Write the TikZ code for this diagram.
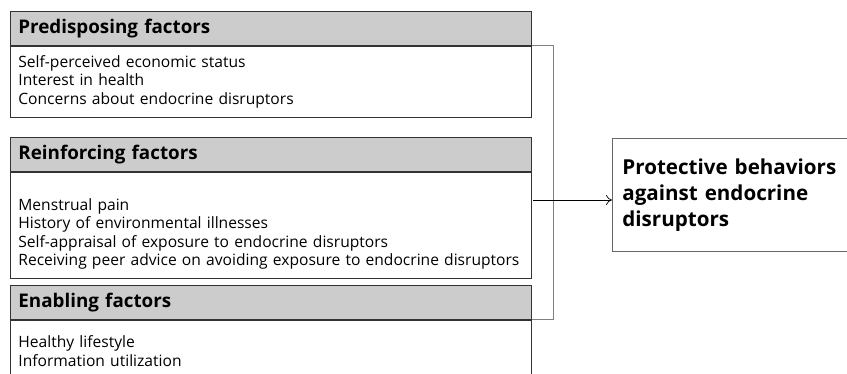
\documentclass[tikz,border=0pt]{standalone}
\usepackage{fontspec}
\setmainfont{Open Sans}
\usetikzlibrary{positioning}
\usetikzlibrary{arrows.meta}

\tikzset{
  headbox/.style={draw=black!80, fill=gray!40, minimum width=521pt, minimum height=34pt,
    text width=505pt, inner xsep=8pt, align=left, font=\fontsize{18.8}{22}\selectfont\bfseries},
  bodybox/.style={draw=black!80, minimum width=521pt, text width=505pt, inner xsep=8pt,
    align=left, font=\fontsize{15.6}{18.5}\selectfont},
  goalbox/.style={draw=black!60, minimum width=250pt, minimum height=113pt, text width=230pt,
    inner xsep=10pt, align=left, font=\fontsize{20.6}{26}\selectfont\bfseries},
  bracket/.style={draw=gray, line width=0.8pt},
}

\begin{document}
\begin{tikzpicture}[x=1pt,y=-1pt,line width=0.8pt]
\useasboundingbox (0,0) rectangle (847,373);
% factor boxes
\node[headbox, anchor=north west] (prehead) at (10,11) {Predisposing factors};
\node[bodybox, below=0pt of prehead, minimum height=71pt] (prebody)
  {\vphantom{Mg}Self-perceived economic status\\Interest in health\\Concerns about endocrine disruptors\vphantom{Mg}};
\node[headbox, anchor=north west] (reihead) at (10,137) {Reinforcing factors};
\node[bodybox, below=0pt of reihead, minimum height=106pt] (reibody)
  {\vphantom{Mg}\\Menstrual pain\\History of environmental illnesses\\Self-appraisal of exposure to endocrine disruptors\\Receiving peer advice on avoiding exposure to endocrine disruptors\vphantom{Mg}};
\node[headbox, anchor=north west] (enahead) at (10,285) {Enabling factors};
\node[bodybox, below=0pt of enahead, minimum height=80pt, anchor=north] (enabody)
  {Healthy lifestyle\\Information utilization\\\mbox{}};
% outcome
\node[goalbox, anchor=north west] (goal) at (612,138)
  {Protective behaviors\\against endocrine\\disruptors};
% bracket and arrow
\coordinate (brk) at (553,0);
\coordinate (fork) at (533,200);
\draw[bracket] (prehead.south east) -- (prehead.south east -| brk) |- (enahead.south east);
\draw[-{To[length=6pt,width=10pt]}, line width=0.7pt] (fork) -- (fork -| goal.west);
\end{tikzpicture}
\end{document}
